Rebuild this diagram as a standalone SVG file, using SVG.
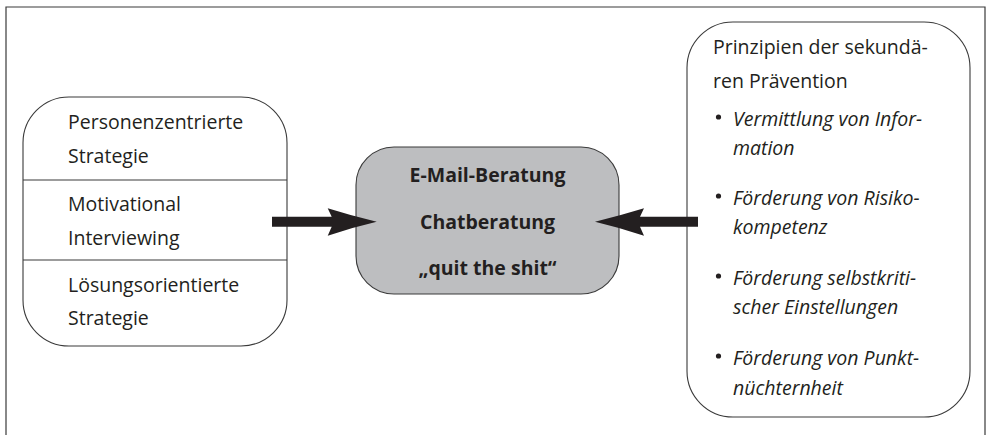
<svg xmlns="http://www.w3.org/2000/svg" width="990" height="435" viewBox="0 0 990 435">
<style>
.frame{fill:none;stroke:#3a3a3a;stroke-width:1.2}
.box{fill:#ffffff;stroke:#3a3a3a;stroke-width:1.1}
.hub{fill:#bdbec0;stroke:#3a3a3a;stroke-width:1.1}
.div{stroke:#3a3a3a;stroke-width:1.1}
.t{font-family:"Open Sans","Noto Sans","DejaVu Sans",sans-serif;font-size:19.5px;fill:#231f20}
.it{font-style:italic}
.b{font-weight:bold;text-anchor:middle;font-size:19.5px}
.arrow{fill:#231f20;stroke:none}
.dot{fill:#231f20}
</style>
<rect x="0" y="0" width="990" height="435" fill="#ffffff"/>
<path class="frame" d="M6,436 V7 H985 V436"/>

<g id="node-strategies">
  <rect class="box" x="23" y="97" width="264" height="249" rx="46" ry="46"/>
  <line class="div" x1="23" y1="180" x2="287" y2="180"/>
  <line class="div" x1="23" y1="260" x2="287" y2="260"/>
  <text class="t" x="68" y="129">Personenzentrierte</text>
  <text class="t" x="68" y="162.5">Strategie</text>
  <text class="t" x="68" y="211">Motivational</text>
  <text class="t" x="68" y="245">Interviewing</text>
  <text class="t" x="68" y="291.5">Lösungsorientierte</text>
  <text class="t" x="68" y="325">Strategie</text>
</g>

<g id="node-beratung">
  <rect class="hub" x="356" y="147" width="263" height="147" rx="38" ry="38"/>
  <text class="t b" x="487.5" y="182">E-Mail-Beratung</text>
  <text class="t b" x="487.5" y="228.5">Chatberatung</text>
  <text class="t b" x="487.5" y="275">„quit the shit“</text>
</g>

<g id="node-praevention">
  <rect class="box" x="687" y="22" width="283" height="395" rx="46" ry="46"/>
  <text class="t" x="713" y="54">Prinzipien der sekundä-</text>
  <text class="t" x="713" y="87.5">ren Prävention</text>
  <circle class="dot" cx="718.5" cy="117" r="2.6"/>
  <text class="t it" x="733" y="126">Vermittlung von Infor-</text>
  <text class="t it" x="733" y="155">mation</text>
  <circle class="dot" cx="718.5" cy="196" r="2.6"/>
  <text class="t it" x="733" y="205">Förderung von Risiko-</text>
  <text class="t it" x="733" y="234">kompetenz</text>
  <circle class="dot" cx="718.5" cy="276" r="2.6"/>
  <text class="t it" x="733" y="285">Förderung selbstkriti-</text>
  <text class="t it" x="733" y="314">scher Einstellungen</text>
  <circle class="dot" cx="718.5" cy="356" r="2.6"/>
  <text class="t it" x="733" y="365">Förderung von Punkt-</text>
  <text class="t it" x="733" y="394.5">nüchternheit</text>
</g>

<g id="connectors">
  <path class="arrow" d="M272,216.7 H331.7 L327.7,208.3 Q352,216 376.7,221.7 Q352,227.4 327.7,235.7 L331.7,226.7 H272 Z"/>
  <path class="arrow" d="M698,216.7 H640 L644,208.3 Q619,216 595,221.7 Q619,227.4 644,235.7 L640,226.7 H698 Z"/>
</g>
</svg>
